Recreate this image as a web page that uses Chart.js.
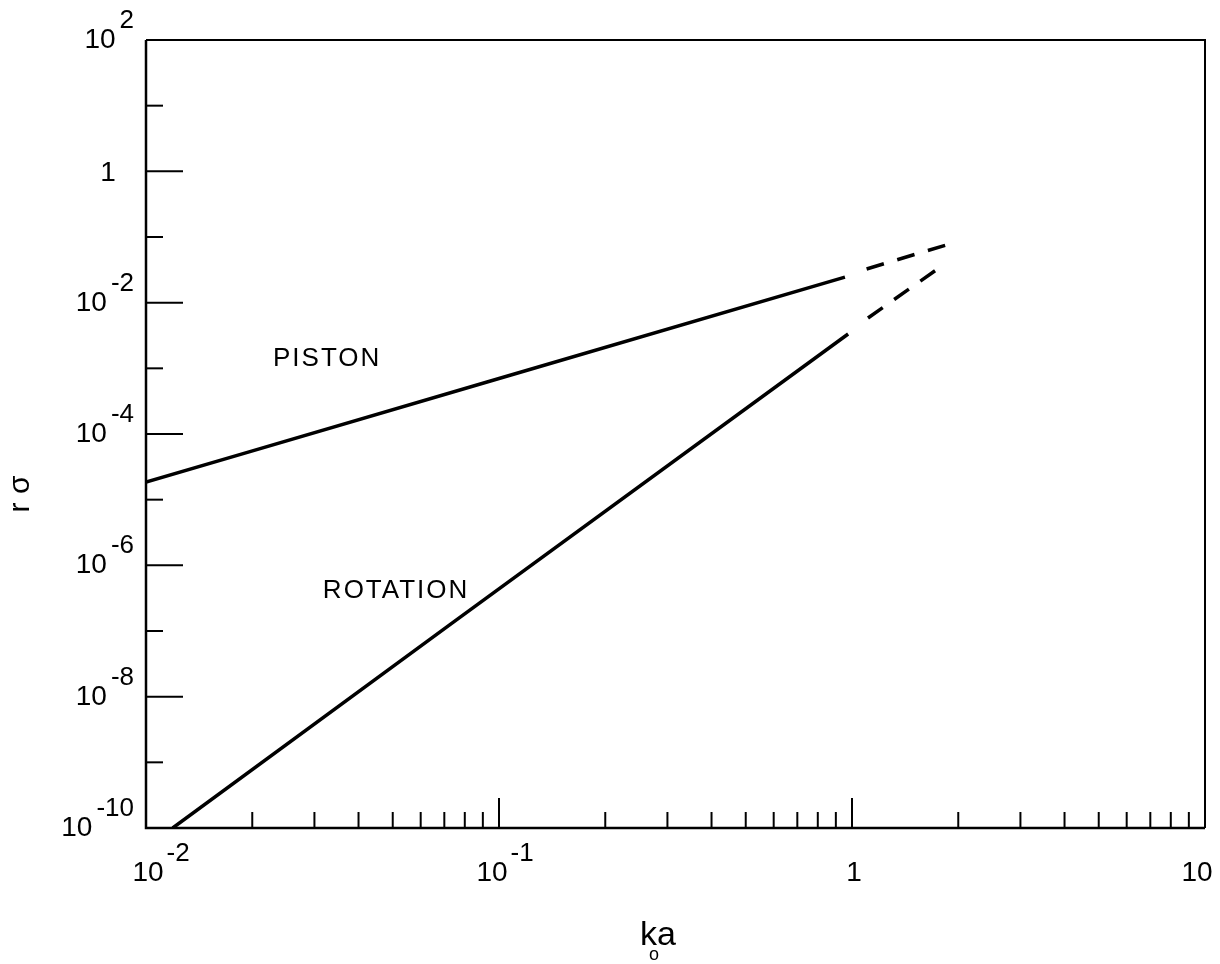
<!DOCTYPE html>
<html>
<head>
<meta charset="utf-8">
<script src="https://cdn.jsdelivr.net/npm/chart.js@4/dist/chart.umd.min.js"></script>
<style>
html,body{margin:0;padding:0;background:#fff;}
#wrap{width:1220px;height:964px;}
</style>
</head>
<body>
<div id="wrap"><canvas id="c" width="1220" height="964"></canvas></div>
<script>
// ---- data ----
const pistonX      = [0.01, 0.0197, 0.1, 0.955];
const pistonY      = [1.86e-5, 5.4e-5, 7.0e-4, 0.0245];
const pistonDashX  = [1.10, 1.93];
const pistonDashY  = [0.0326, 0.081];
const rotationX    = [0.0119, 0.0741, 0.975];
const rotationY    = [1e-10, 1.35e-7, 3.33e-3];
const rotationDashX = [1.11, 1.82];
const rotationDashY = [5.85e-3, 0.038];

const xMajorTicks  = [0.01, 0.1, 1, 10];
const xTickBase    = ['10', '10', '1', '10'];
const xTickExp     = ['-2', '-1', '', ''];
const xMinorMult   = [2, 3, 4, 5, 6, 7, 8, 9];
const yDecadeTicks = [1e2, 1e1, 1, 1e-1, 1e-2, 1e-3, 1e-4, 1e-5, 1e-6, 1e-7, 1e-8, 1e-9, 1e-10];
const yLabelTicks  = [1e2, 1, 1e-2, 1e-4, 1e-6, 1e-8, 1e-10];
const yTickBase    = ['10', '1', '10', '10', '10', '10', '10'];
const yTickExp     = ['2', '', '-2', '-4', '-6', '-8', '-10'];
const annotations  = ['PISTON', 'ROTATION'];
const annotX       = [0.0229, 0.0317];
const annotY       = [1.09e-3, 3.18e-7];

function pts(xs, ys){ return xs.map((x,i)=>({x:x, y:ys[i]})); }

const FONT = '"Liberation Sans", Arial, sans-serif';

const framePlugin = {
  id: 'frame',
  beforeDraw(chart){
    const ctx = chart.ctx;
    ctx.save();
    ctx.fillStyle = '#fff';
    ctx.fillRect(0,0,chart.width,chart.height);
    ctx.restore();
  },
  afterDraw(chart){
    const ctx = chart.ctx;
    const xs = chart.scales.x, ys = chart.scales.y;
    const a = chart.chartArea;
    ctx.save();
    ctx.strokeStyle = '#000';
    ctx.fillStyle = '#000';
    ctx.lineCap = 'butt';
    // box
    ctx.lineWidth = 2.5;
    ctx.beginPath();
    ctx.moveTo(a.left, a.top); ctx.lineTo(a.left, a.bottom); ctx.lineTo(a.right, a.bottom);
    ctx.stroke();
    ctx.lineWidth = 2;
    ctx.beginPath();
    ctx.moveTo(a.left, a.top); ctx.lineTo(a.right, a.top); ctx.lineTo(a.right, a.bottom);
    ctx.stroke();
    // y ticks (inward)
    ctx.lineWidth = 2;
    yDecadeTicks.forEach(v=>{
      const py = ys.getPixelForValue(v);
      const e = Math.round(Math.log10(v));
      const len = (e % 2 === 0) ? 37 : 17;
      ctx.beginPath(); ctx.moveTo(a.left, py); ctx.lineTo(a.left+len, py); ctx.stroke();
    });
    // x ticks (inward)
    xMajorTicks.forEach((v,i)=>{
      const px = xs.getPixelForValue(v);
      ctx.beginPath(); ctx.moveTo(px, a.bottom); ctx.lineTo(px, a.bottom-30); ctx.stroke();
      if (i < xMajorTicks.length-1){
        xMinorMult.forEach(m=>{
          const qx = xs.getPixelForValue(v*m);
          ctx.beginPath(); ctx.moveTo(qx, a.bottom); ctx.lineTo(qx, a.bottom-16); ctx.stroke();
        });
      }
    });
    // y labels
    const baseF = '28px ' + FONT, expF = '26px ' + FONT;
    yLabelTicks.forEach((v,i)=>{
      const py = ys.getPixelForValue(v);
      ctx.textBaseline = 'alphabetic';
      ctx.font = expF;
      const ew = ctx.measureText(yTickExp[i]).width;
      ctx.font = baseF;
      const bw = ctx.measureText(yTickBase[i]).width;
      const right = 134;
      if (yTickExp[i]) {
        ctx.textAlign = 'left';
        ctx.font = baseF;
        ctx.fillText(yTickBase[i], right - ew - 4 - bw, py + 8);
        ctx.font = expF;
        ctx.fillText(yTickExp[i], right - ew, py - 12);
      } else {
        ctx.textAlign = 'center';
        ctx.font = baseF;
        ctx.fillText(yTickBase[i], 108, py + 10);
      }
    });
    // x labels
    xMajorTicks.forEach((v,i)=>{
      let px = xs.getPixelForValue(v);
      ctx.font = baseF;
      ctx.textAlign = 'center';
      ctx.textBaseline = 'alphabetic';
      const bw = ctx.measureText(xTickBase[i]).width;
      let cx = px + (i===3 ? -8 : (i===1 ? -7 : 2));
      ctx.fillText(xTickBase[i], cx, 881);
      if (xTickExp[i]) {
        ctx.font = expF;
        ctx.textAlign = 'left';
        ctx.fillText(xTickExp[i], cx + bw/2 + 3, 861);
      }
    });
    // annotations
    ctx.font = '26px ' + FONT;
    ctx.textAlign = 'left';
    ctx.textBaseline = 'alphabetic';
    if ('letterSpacing' in ctx) ctx.letterSpacing = '2px';
    annotations.forEach((t,i)=>{
      ctx.fillText(t, xs.getPixelForValue(annotX[i]), ys.getPixelForValue(annotY[i]));
    });
    if ('letterSpacing' in ctx) ctx.letterSpacing = '0px';
    // x title k_o a
    ctx.font = '34px ' + FONT;
    ctx.textAlign = 'left';
    ctx.fillText('k', 640, 945);
    const kw = ctx.measureText('k').width;
    ctx.fillText('a', 640 + kw, 945);
    ctx.font = '18px ' + FONT;
    ctx.fillText('o', 640 + kw - 8, 960);
    // y title r sigma
    ctx.translate(29, 494);
    ctx.rotate(-Math.PI/2);
    ctx.font = '30px ' + FONT;
    ctx.textAlign = 'center';
    ctx.fillText('r σ', 0, 0);
    ctx.restore();
  }
};

new Chart(document.getElementById('c'), {
  type: 'line',
  data: {
    datasets: [
      {label:'Piston', data: pts(pistonX, pistonY), borderColor:'#000', borderWidth:3.5, pointRadius:0, fill:false, tension:0},
      {label:'Piston (extrapolated)', data: pts(pistonDashX, pistonDashY), borderColor:'#000', borderWidth:3.5, borderDash:[18,14], pointRadius:0, fill:false, tension:0},
      {label:'Rotation', data: pts(rotationX, rotationY), borderColor:'#000', borderWidth:3.5, pointRadius:0, fill:false, tension:0},
      {label:'Rotation (extrapolated)', data: pts(rotationDashX, rotationDashY), borderColor:'#000', borderWidth:3.5, borderDash:[18,14], pointRadius:0, fill:false, tension:0}
    ]
  },
  options: {
    responsive: false,
    animation: false,
    devicePixelRatio: 1,
    layout: {padding: {left:146, right:15, top:40, bottom:136}},
    plugins: {legend:{display:false}, tooltip:{enabled:false}},
    scales: {
      x: {type:'logarithmic', min:0.01, max:10, display:false},
      y: {type:'logarithmic', min:1e-10, max:100, display:false}
    }
  },
  plugins: [framePlugin]
});
</script>
</body>
</html>
